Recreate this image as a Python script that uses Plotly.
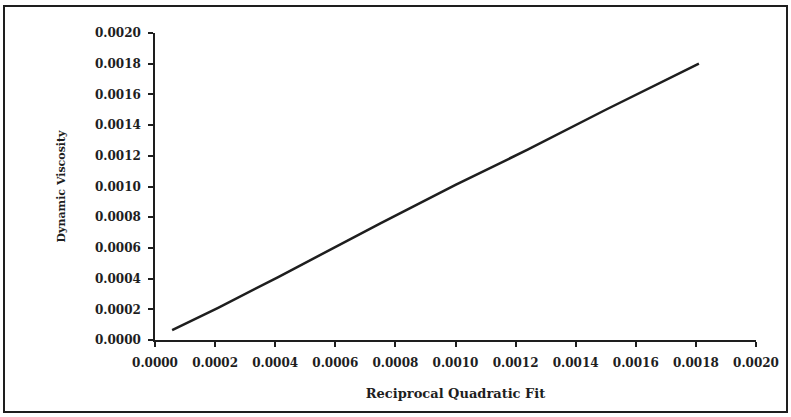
import plotly.graph_objects as go

# Data
recip_quad_fit = [0.000057, 0.00021, 0.00041, 0.00075, 0.00100, 0.00124, 0.00150, 0.00181]
dynamic_viscosity = [0.000065, 0.00021, 0.00041, 0.00076, 0.00101, 0.00124, 0.00150, 0.00180]

W, H = 791, 417
L, R, T, B = 155, 35, 33, 77
pw, ph = W - L - R, H - T - B

def px(x):
    return (x - L) / pw

def py(y):
    return (H - B - y) / ph

font_family = "DejaVu Serif"
ink = "#1e1e1e"

fig = go.Figure()
fig.add_trace(go.Scatter(
    x=recip_quad_fit, y=dynamic_viscosity, mode="lines",
    line=dict(color=ink, width=2.5), showlegend=False,
))

axis_common = dict(
    range=[0, 0.002], dtick=0.0002, tick0=0, tickformat=".4f",
    showgrid=False, zeroline=False, showline=True, linecolor=ink,
    linewidth=1.5, ticks="outside", ticklen=5, tickwidth=1.5, tickcolor=ink,
    tickfont=dict(family=font_family, size=12, color=ink, weight="bold"),
    automargin=False,
)

fig.update_layout(
    width=W, height=H,
    margin=dict(l=L, r=R, t=T, b=B),
    paper_bgcolor="white", plot_bgcolor="white",
    xaxis=dict(**axis_common, ticklabelstandoff=6,
               title=dict(text="Reciprocal Quadratic Fit", standoff=20,
                          font=dict(family=font_family, size=13, color=ink, weight="bold"))),
    yaxis=dict(**axis_common, ticklabelstandoff=5,
               title=dict(text="Dynamic Viscosity", standoff=27,
                          font=dict(family=font_family, size=11, color=ink, weight="bold"))),
    shapes=[dict(type="rect", xref="paper", yref="paper",
                 x0=px(4), x1=px(787), y0=py(412), y1=py(6),
                 line=dict(color=ink, width=2), layer="below")],
)

fig.write_html("out.html", config={"displayModeBar": False},
               post_script="document.body.style.margin='0px';")
